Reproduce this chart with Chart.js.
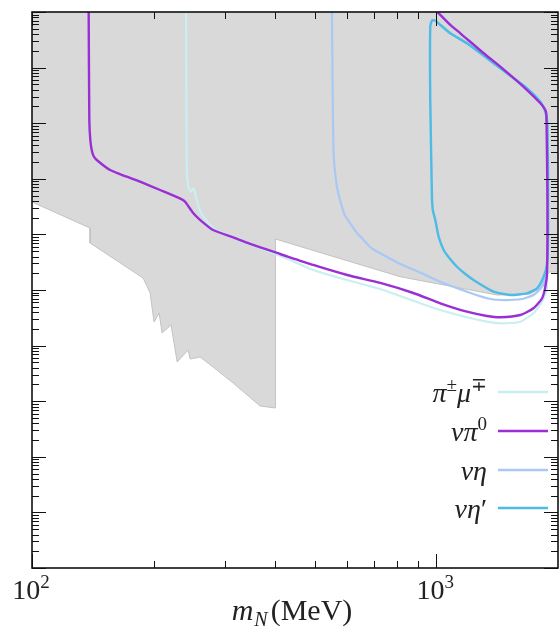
<!DOCTYPE html>
<html>
<head>
<meta charset="utf-8">
<script src="https://cdn.jsdelivr.net/npm/chart.js@4/dist/chart.umd.min.js"></script>
<style>
  html, body { margin: 0; padding: 0; background: #fff; }
  #c { display: block; }
</style>
</head>
<body>
<canvas id="c" width="560" height="635"></canvas>
<script>
// ejes (m_N en MeV, |U|^2 sin etiquetas)
const xRange = [100, 2000];
const yRange = [1e-10, 1];
const xMajorTicks = [100, 1000];
const xTickLabels = [['10', '2'], ['10', '3']];
const xMinorTicks = [200, 300, 400, 500, 600, 700, 800, 900];
const yDecades = [1e-10, 1e-9, 1e-8, 1e-7, 1e-6, 1e-5, 1e-4, 1e-3, 1e-2, 1e-1, 1];
const yMinorSteps = [2, 3, 4, 5, 6, 7, 8, 9];

// región gris excluida (borde inferior)
const greyMass = [100, 139.2, 139.2, 188.3, 196, 198.2, 200.4, 206.3, 209.8, 220.8, 228.6, 243.3, 246.1, 260.5, 280.5, 314.5, 366.7, 400, 400, 814.5, 1413, 1709, 1861, 1893, 2000];
const greyBound = [3.83e-4, 1.30e-4, 7.0e-5, 1.64e-5, 8.83e-6, 4.75e-6, 2.66e-6, 3.86e-6, 1.69e-6, 2.35e-6, 5.07e-7, 8.33e-7, 5.74e-7, 6.24e-7, 4.12e-7, 2.12e-7, 8.2e-8, 7.55e-8, 8.26e-5, 1.73e-5, 8.13e-6, 8.5e-6, 1.23e-5, 2.1e-5, 2.1e-5];

// pi+- mu-+
const piMuMass = [240.5, 241.5, 243.7, 247.1, 250.7, 253.2, 258.0, 265.5, 281.1, 303.4, 340.0, 388.2, 435.1, 496.1, 602.1, 726.8, 912.9, 1023, 1191, 1335, 1440, 1614, 1739, 1827, 1879, 1883, 1872, 1861, 1809, 1677, 1440, 1191, 1083, 1013];
const piMuU = [1, 1.44e-3, 7.21e-4, 5.86e-4, 6.75e-4, 5.48e-4, 3.15e-4, 2.08e-4, 1.29e-4, 9.75e-5, 6.92e-5, 4.89e-5, 3.46e-5, 2.29e-5, 1.51e-5, 1.04e-5, 5.77e-6, 4.37e-6, 3.23e-6, 2.69e-6, 2.52e-6, 2.69e-6, 3.81e-6, 6.16e-6, 1.07e-5, 4.16e-4, 1.24e-2, 1.61e-2, 2.44e-2, 4.24e-2, 9.71e-2, 0.273, 0.414, 0.626];

// nu pi0
const nuPi0Mass = [138.1, 138.6, 139.4, 140.5, 142.0, 144.6, 156.0, 171.6, 185.1, 207.4, 234.7, 239.2, 250.7, 260.5, 280.5, 314.5, 352.4, 411.1, 496.1, 602.1, 726.8, 877.3, 1023, 1191, 1335, 1440, 1614, 1739, 1827, 1861, 1879, 1883, 1872, 1861, 1809, 1677, 1440, 1310, 1147, 1083, 1006];
const nuPi0U = [1, 1.14e-2, 4.99e-3, 3.3e-3, 2.57e-3, 2.18e-3, 1.44e-3, 1.09e-3, 8.87e-4, 6.29e-4, 4.28e-4, 3.87e-4, 2.39e-4, 1.82e-4, 1.20e-4, 8.87e-5, 6.45e-5, 4.44e-5, 2.82e-5, 1.86e-5, 1.34e-5, 8.83e-6, 5.77e-6, 4.07e-6, 3.41e-6, 3.23e-6, 3.55e-6, 4.69e-6, 7.1e-6, 1.15e-5, 2.0e-5, 4.16e-4, 1.40e-2, 1.73e-2, 2.28e-2, 3.95e-2, 0.104, 0.181, 0.414, 0.584, 1];

// nu eta
const nuEtaMass = [551.9, 556.9, 567.8, 584.2, 595.4, 612.5, 634, 660.7, 686.5, 726.8, 814.5, 912.9, 1023, 1191, 1335, 1440, 1614, 1739, 1827, 1861, 1879, 1888, 1883, 1861, 1809, 1677, 1440, 1191, 1083, 1013];
const nuEtaU = [1, 3.30e-3, 7.21e-4, 3.15e-4, 2.14e-4, 1.58e-4, 1.10e-4, 7.93e-5, 5.93e-5, 4.57e-5, 2.94e-5, 2.06e-5, 1.41e-5, 9.31e-6, 7.10e-6, 6.61e-6, 6.81e-6, 8.13e-6, 1.15e-5, 1.73e-5, 2.62e-5, 4.16e-4, 9.28e-3, 1.61e-2, 2.44e-2, 4.24e-2, 9.71e-2, 0.273, 0.414, 0.626];

// nu eta'
const nuEtapMass = [975.9, 966.2, 966.2, 975.9, 994.3, 1013, 1083, 1191, 1440, 1677, 1809, 1861, 1883, 1890, 1879, 1843, 1775, 1677, 1525, 1387, 1237, 1180, 1125, 1077, 1043, 1014, 994.3, 980.2, 975.9];
const nuEtapU = [4.16e-4, 2.61e-2, 0.544, 0.703, 0.703, 0.626, 0.414, 0.273, 9.71e-2, 4.24e-2, 2.44e-2, 1.61e-2, 9.28e-3, 1.20e-4, 3.02e-5, 1.73e-5, 1.07e-5, 8.72e-6, 8.13e-6, 9.31e-6, 1.51e-5, 1.94e-5, 2.62e-5, 3.76e-5, 5.24e-5, 8.98e-5, 1.82e-4, 2.75e-4, 4.16e-4];

// leyenda: piezas de texto (t = texto, sup = superíndice)
const legendLabels = [
    [{ t: 'π' }, { t: '±', sup: true }, { t: 'μ' }, { t: '∓', sup: true }],
    [{ t: 'ν' }, { t: 'π' }, { t: '0', sup: true, up: true }],
    [{ t: 'ν' }, { t: 'η' }],
    [{ t: 'ν' }, { t: 'η' }, { t: '′', up: true }]
];
const seriesColors = ['#c9eff1', '#9a2fd6', '#a9c8f4', '#4dbbe4'];

const zip = (xs, ys) => xs.map((v, i) => ({ x: v, y: ys[i] }));

const SERIF = '"Liberation Serif", "DejaVu Serif", serif';

function drawPieces(ctx, pieces, x, y, size, italic, align) {
    const fontFor = p => {
        const s = p.sup ? Math.round(size * 0.68) : size;
        const it = (italic && !p.up) ? 'italic ' : '';
        return it + s + 'px ' + SERIF;
    };
    let total = 0;
    pieces.forEach(p => { ctx.font = fontFor(p); total += ctx.measureText(p.t).width; });
    let cx = align === 'right' ? x - total : (align === 'center' ? x - total / 2 : x);
    pieces.forEach(p => {
        ctx.font = fontFor(p);
        let dy = 0;
        if (p.sup) dy = -size * 0.4;
        ctx.fillText(p.t, cx, y + dy);
        cx += ctx.measureText(p.t).width;
    });
}

// Marco, ticks hacia dentro, etiquetas y leyenda
const framePlugin = {
    id: 'framePlugin',
    afterDraw(chart) {
        const { ctx, chartArea: { left, right, top, bottom }, scales: { x, y } } = chart;
        ctx.save();
        ctx.strokeStyle = '#111';
        ctx.lineWidth = 1;
        const tick = (x1, y1, x2, y2) => { ctx.beginPath(); ctx.moveTo(x1, y1); ctx.lineTo(x2, y2); ctx.stroke(); };

        // ticks X (abajo y arriba)
        xMajorTicks.concat(xMinorTicks).forEach(v => {
            const px = Math.round(x.getPixelForValue(v)) + 0.5;
            const len = xMajorTicks.includes(v) ? 14 : 7;
            tick(px, bottom, px, bottom - len);
            tick(px, top, px, top + len);
        });
        // ticks Y (izquierda y derecha)
        yDecades.forEach((d, i) => {
            const py = Math.round(y.getPixelForValue(d)) + 0.5;
            tick(left, py, left + 14, py);
            tick(right, py, right - 14, py);
            if (i < yDecades.length - 1) {
                yMinorSteps.forEach(m => {
                    const pm = Math.round(y.getPixelForValue(d * m)) + 0.5;
                    tick(left, pm, left + 7, pm);
                    tick(right, pm, right - 7, pm);
                });
            }
        });

        // marco
        ctx.lineWidth = 1.6;
        ctx.strokeRect(left, top, right - left, bottom - top);

        // etiquetas eje X
        ctx.fillStyle = '#222';
        ctx.textBaseline = 'alphabetic';
        xMajorTicks.forEach((v, i) => {
            const px = x.getPixelForValue(v);
            drawPieces(ctx, [{ t: xTickLabels[i][0] }, { t: xTickLabels[i][1], sup: true }], px - 1, bottom + 31, 28, false, 'center');
        });

        // título eje X
        ctx.font = 'italic 30px ' + SERIF;
        const wm = ctx.measureText('m').width;
        ctx.font = 'italic 20px ' + SERIF;
        const wn = ctx.measureText('N').width;
        ctx.font = '30px ' + SERIF;
        const wr = ctx.measureText('(MeV)').width;
        let tx = 292 - (wm + wn + wr + 4) / 2;
        const ty = 620;
        ctx.font = 'italic 30px ' + SERIF;
        ctx.fillText('m', tx, ty); tx += wm + 1;
        ctx.font = 'italic 20px ' + SERIF;
        ctx.fillText('N', tx, ty + 6); tx += wn + 3;
        ctx.font = '30px ' + SERIF;
        ctx.fillText('(MeV)', tx, ty);

        // leyenda
        const rows = [392, 431, 470, 508];
        legendLabels.forEach((pieces, i) => {
            ctx.fillStyle = '#222';
            drawPieces(ctx, pieces, 487, rows[i] + 10, 28, true, 'right');
            ctx.strokeStyle = seriesColors[i];
            ctx.lineWidth = 2.4;
            tick(498, rows[i], 548, rows[i]);
        });
        ctx.restore();
    }
};

function lineSet(label, data, color, width, order) {
    return {
        label: label,
        data: data,
        borderColor: color,
        borderWidth: width,
        pointRadius: 0,
        tension: 0.2,
        fill: false,
        order: order
    };
}

new Chart(document.getElementById('c').getContext('2d'), {
    type: 'line',
    data: {
        datasets: [
            {
                label: 'excluida',
                data: zip(greyMass, greyBound),
                borderColor: '#c2c2c2',
                borderWidth: 1,
                backgroundColor: '#d9d9d9',
                pointRadius: 0,
                tension: 0,
                fill: 'end',
                order: 10
            },
            lineSet('π±μ∓', zip(piMuMass, piMuU), seriesColors[0], 2.2, 5),
            lineSet('νη', zip(nuEtaMass, nuEtaU), seriesColors[2], 2.2, 4),
            lineSet("νη'", zip(nuEtapMass, nuEtapU), seriesColors[3], 2.4, 3),
            lineSet('νπ0', zip(nuPi0Mass, nuPi0U), seriesColors[1], 2.4, 2)
        ]
    },
    options: {
        responsive: false,
        devicePixelRatio: 1,
        animation: false,
        layout: { padding: { left: 32, right: 2, top: 12, bottom: 67 } },
        plugins: { legend: { display: false }, tooltip: { enabled: false } },
        scales: {
            x: { type: 'logarithmic', min: xRange[0], max: xRange[1], display: false },
            y: { type: 'logarithmic', min: yRange[0], max: yRange[1], display: false }
        }
    },
    plugins: [framePlugin]
});
</script>
</body>
</html>
